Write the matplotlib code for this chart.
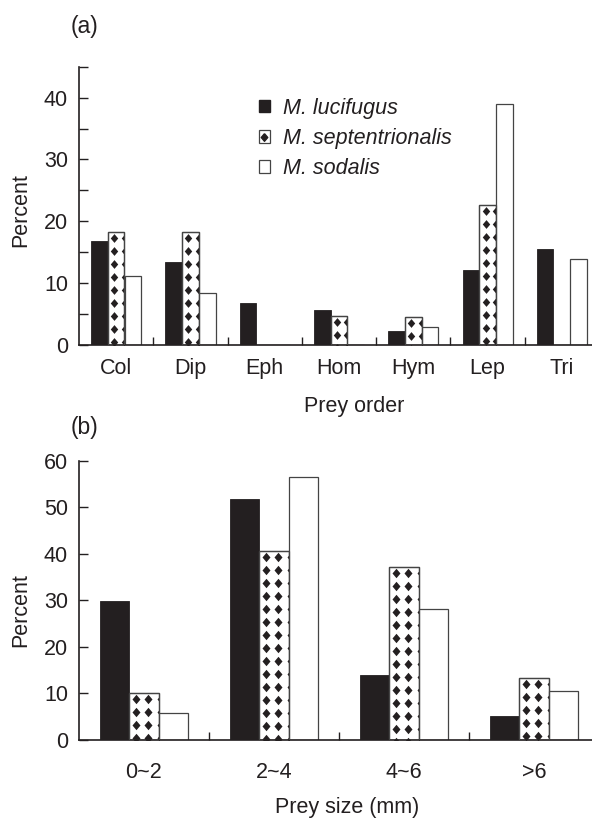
import matplotlib.pyplot as plt
import numpy as np
from matplotlib.patches import Patch
from matplotlib.lines import Line2D
from matplotlib.legend_handler import HandlerTuple
from matplotlib.ticker import MultipleLocator, FixedLocator

plt.rcParams['font.family'] = ['Liberation Sans', 'DejaVu Sans']
INK = '#231f20'

# (a) prey order
orders = ['Col', 'Dip', 'Eph', 'Hom', 'Hym', 'Lep', 'Tri']
luci_a = [16.8, 13.4, 6.8, 5.7, 2.3, 12.2, 15.6]
sept_a = [18.2, 18.2, 0.0, 4.7, 4.6, 22.7, 0.0]
soda_a = [11.2, 8.4, 0.0, 0.0, 2.9, 38.9, 13.9]

# (b) prey size
sizes = ['0~2', '2~4', '4~6', '>6']
luci_b = [29.9, 51.7, 14.0, 5.2]
sept_b = [10.0, 40.5, 37.1, 13.3]
soda_b = [5.7, 56.5, 28.1, 10.5]

species = ['M. lucifugus', 'M. septentrionalis', 'M. sodalis']

W, H, DPI = 592, 819, 100
fig = plt.figure(figsize=(W / DPI, H / DPI), dpi=DPI)
ax1 = fig.add_axes([79 / W, 1 - 345 / H, 520 / W, 278.3 / H])
ax2 = fig.add_axes([79 / W, 1 - 740 / H, 520 / W, 279.3 / H])

DIAMOND = [(0, 1), (0.85, 0), (0, -1), (-0.85, 0), (0, 1)]
bw = 0.225


def px_scale(ax):
    pos = ax.get_position()
    x0, x1 = ax.get_xlim()
    y0, y1 = ax.get_ylim()
    return (x1 - x0) / (pos.width * W), (y1 - y0) / (pos.height * H)


def diamond_fill(ax, bars, dx, dy, off_x, off_y, s):
    sx, sy = px_scale(ax)
    for p in bars:
        h = p.get_height()
        if h <= 0:
            continue
        left = p.get_x()
        right = left + p.get_width()
        cols = np.arange(left + off_x * sx, right + 6 * sx, dx * sx)
        rows = np.arange(h - off_y * sy, -6 * sy, -dy * sy)
        gx, gy = np.meshgrid(cols, rows)
        sc = ax.scatter(gx.ravel(), gy.ravel(), s=s, marker=DIAMOND,
                        color=INK, linewidths=0, zorder=3)
        sc.set_clip_path(p)


def panel(ax, cats, a, b, c, ymax, minor, dx, s, label_pad):
    x = np.arange(len(cats))
    ax.set_xlim(-0.5, len(cats) - 0.5)
    ax.set_ylim(0, ymax)
    ax.bar(x - bw, a, bw, color=INK, edgecolor=INK, linewidth=0.6, zorder=2)
    dots = ax.bar(x, b, bw, color='white', edgecolor='#444444', linewidth=0.9, zorder=2)
    ax.bar(x + bw, c, bw, color='white', edgecolor='#444444', linewidth=0.9, zorder=2)
    diamond_fill(ax, dots, dx, 13, 6.3, 6, s)
    ax.bar(x, b, bw, fill=False, edgecolor='#444444', linewidth=0.9, zorder=4)

    for sp in ['top', 'right']:
        ax.spines[sp].set_visible(False)
    for sp in ['left', 'bottom']:
        ax.spines[sp].set_color(INK)
        ax.spines[sp].set_linewidth(1.2)

    ax.yaxis.set_major_locator(MultipleLocator(10))
    ax.yaxis.set_minor_locator(MultipleLocator(minor))
    ax.tick_params(axis='y', which='both', direction='in', length=6.5, width=1,
                   color=INK, labelsize=15.5, labelcolor=INK, pad=8)
    ax.xaxis.set_major_locator(FixedLocator(x[:-1] + 0.5))
    ax.xaxis.set_minor_locator(FixedLocator(x))
    ax.xaxis.set_major_formatter(plt.NullFormatter())
    ax.set_xticklabels(cats, minor=True)
    ax.tick_params(axis='x', which='major', direction='in', length=6, width=1, color=INK)
    ax.tick_params(axis='x', which='minor', length=0, labelsize=15.5,
                   labelcolor=INK, pad=label_pad)


panel(ax1, orders, luci_a, sept_a, soda_a, 45, 5, 10.5, 40, 9)
panel(ax2, sizes, luci_b, sept_b, soda_b, 60, 10, 12.7, 46, 16)

fig.text(20.7 / W, 1 - 210 / H, 'Percent', rotation=90, ha='center', va='center',
         fontsize=15.5, color=INK)
fig.text(20.7 / W, 1 - 610 / H, 'Percent', rotation=90, ha='center', va='center',
         fontsize=15.5, color=INK)
fig.text(354 / W, 1 - 406.7 / H, 'Prey order', ha='center', va='center',
         fontsize=15.5, color=INK)
fig.text(346.7 / W, 1 - 808 / H, 'Prey size (mm)', ha='center', va='center',
         fontsize=15.5, color=INK)
fig.text(84 / W, 1 - 27 / H, '(a)', ha='center', va='center', fontsize=16.5, color=INK)
fig.text(85 / W, 1 - 427 / H, '(b)', ha='center', va='center', fontsize=16.5, color=INK)

handles = [
    Patch(facecolor=INK, edgecolor=INK),
    (Patch(facecolor='white', edgecolor='#444444', linewidth=0.9),
     Line2D([], [], marker=DIAMOND, color=INK, linestyle='', markersize=5.5)),
    Patch(facecolor='white', edgecolor='#444444', linewidth=0.9),
]
leg = ax1.legend(handles, species, loc='upper left',
                 bbox_to_anchor=((259 - 79) / 520, (345 - 98) / 278.3),
                 frameon=False, fontsize=15.5, handlelength=0.5, handleheight=0.5,
                 handletextpad=0.6, labelspacing=0.42, borderpad=0, borderaxespad=0,
                 handler_map={tuple: HandlerTuple(ndivide=1, pad=0)})
for t in leg.get_texts():
    t.set_fontstyle('italic')
    t.set_color(INK)

fig.savefig('out.png', dpi=DPI)
